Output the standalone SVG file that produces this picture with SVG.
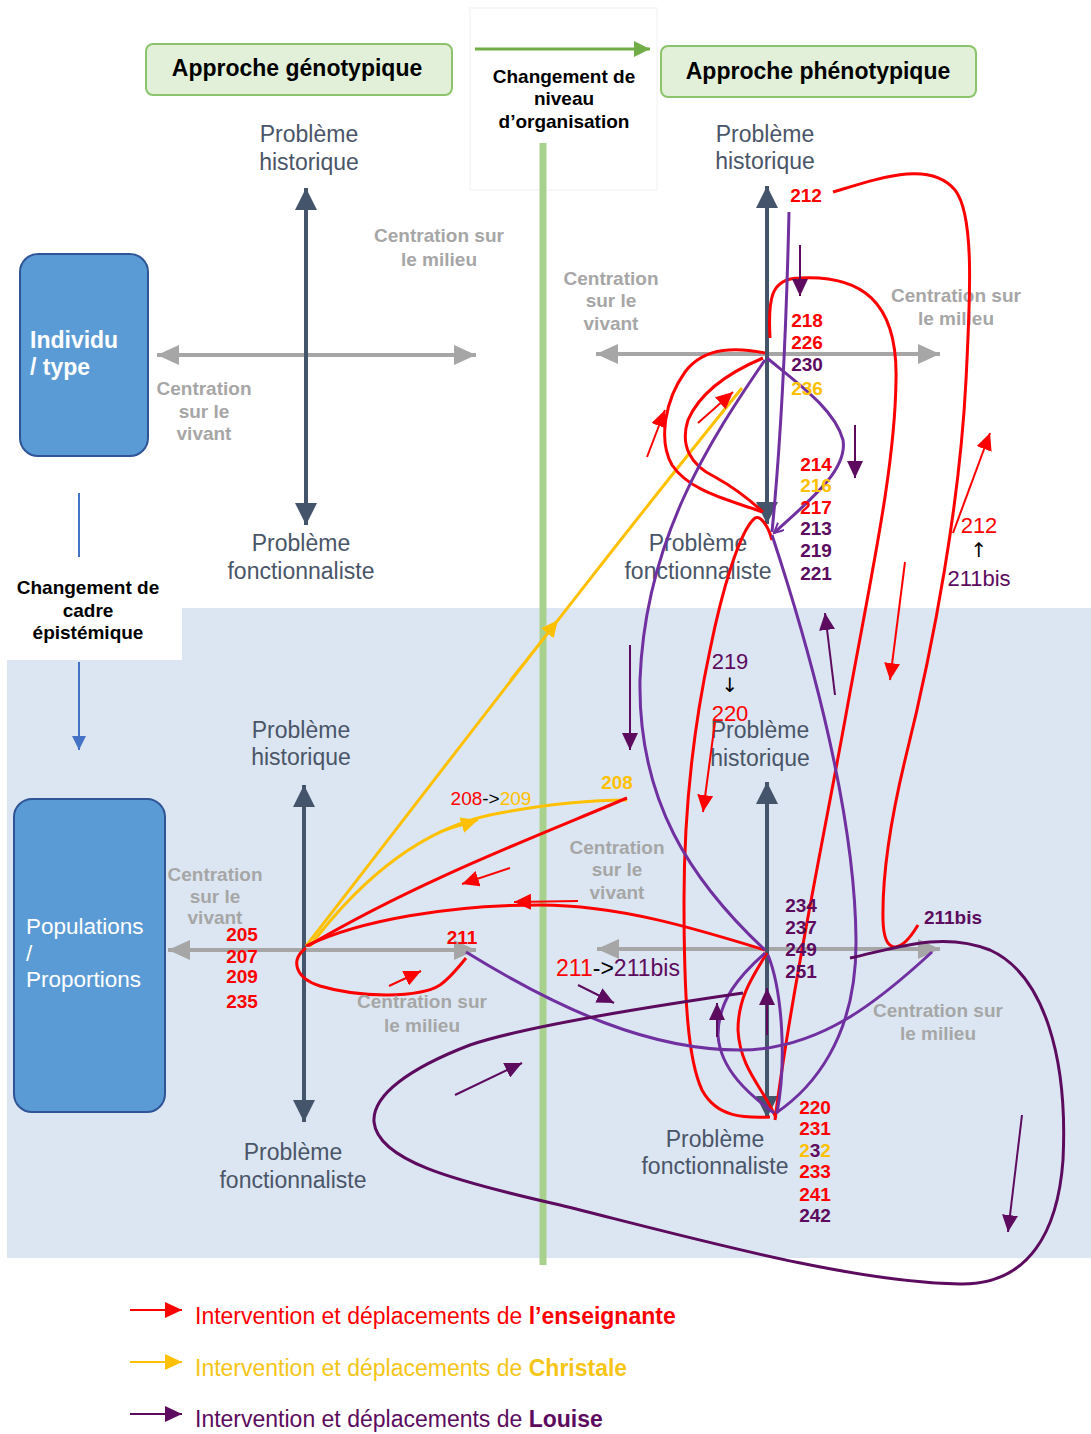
<svg xmlns="http://www.w3.org/2000/svg" width="1091" height="1434" viewBox="0 0 1091 1434">
<defs>
<style>
text{font-family:"Liberation Sans",Arial,sans-serif}
.ax{stroke:#44546a;stroke-width:4;fill:none}
.gx{stroke:#a6a6a6;stroke-width:4;fill:none}
.lab{font-size:23px;fill:#4a5568;text-anchor:middle}
.cen{font-size:19px;font-weight:bold;fill:#a6a6a6;text-anchor:middle}
.num{font-size:19px;font-weight:bold;text-anchor:middle}
.reg{font-size:22px;text-anchor:middle}
.arr{font-family:"DejaVu Sans",sans-serif;font-size:20px;text-anchor:middle;fill:#000}
.r{stroke:#ff0000;stroke-width:3;fill:none}
.y{stroke:#ffc000;stroke-width:3;fill:none}
.p{stroke:#7030a0;stroke-width:3;fill:none}
.d{stroke:#5c0b5e;stroke-width:3;fill:none}
.ra{stroke:#ff0000;stroke-width:2;fill:none;marker-end:url(#mr)}
.ya{stroke:#ffc000;stroke-width:2;fill:none;marker-end:url(#my)}
.da{stroke:#5c0b5e;stroke-width:2;fill:none;marker-end:url(#md)}
.cr{fill:#ff0000}.cy{fill:#ffc000}.cd{fill:#5c0b5e}.ck{fill:#000}
.hdr{font-size:23px;font-weight:bold;fill:#000;text-anchor:middle}
.sub{font-size:19px;font-weight:bold;fill:#000;text-anchor:middle}
.leg{font-size:23px}
</style>
<marker id="ad" markerUnits="userSpaceOnUse" markerWidth="24" markerHeight="24" refX="22" refY="11" orient="auto-start-reverse"><path d="M0,0 L22,11 L0,22 z" fill="#44546a"/></marker>
<marker id="ag" markerUnits="userSpaceOnUse" markerWidth="24" markerHeight="22" refX="22" refY="10" orient="auto-start-reverse"><path d="M0,0 L22,10 L0,20 z" fill="#a6a6a6"/></marker>
<marker id="mr" markerUnits="userSpaceOnUse" markerWidth="18" markerHeight="16" refX="17" refY="8" orient="auto"><path d="M0,0 L17,8 L0,16 z" fill="#ff0000"/></marker>
<marker id="my" markerUnits="userSpaceOnUse" markerWidth="18" markerHeight="16" refX="17" refY="8" orient="auto"><path d="M0,0 L17,8 L0,16 z" fill="#ffc000"/></marker>
<marker id="md" markerUnits="userSpaceOnUse" markerWidth="18" markerHeight="16" refX="17" refY="8" orient="auto"><path d="M0,0 L17,8 L0,16 z" fill="#5c0b5e"/></marker>
<marker id="mp" markerUnits="userSpaceOnUse" markerWidth="12" markerHeight="12" refX="10" refY="5" orient="auto"><path d="M0,0 L10,5 L0,10" fill="none" stroke="#7030a0" stroke-width="2"/></marker>
<marker id="mg" markerUnits="userSpaceOnUse" markerWidth="18" markerHeight="18" refX="16" refY="8" orient="auto"><path d="M0,0 L16,8 L0,16 z" fill="#70ad47"/></marker>
<marker id="mb" markerUnits="userSpaceOnUse" markerWidth="16" markerHeight="16" refX="14" refY="7" orient="auto"><path d="M0,0 L14,7 L0,14 z" fill="#4472c4"/></marker>
</defs>
<rect x="0" y="0" width="1091" height="1434" fill="#ffffff"/>
<rect x="7" y="608" width="1084" height="650" fill="#dce6f2"/>

<g id="niveau-organisation">
<rect x="470" y="8" width="187" height="182" fill="#ffffff" stroke="#f0f0f0" stroke-width="1"/>
<line x1="475" y1="49" x2="650" y2="49" stroke="#70ad47" stroke-width="3" marker-end="url(#mg)"/>
<text class="sub" x="564" y="83">Changement de</text>
<text class="sub" x="564" y="105">niveau</text>
<text class="sub" x="564" y="128">d’organisation</text>
<line x1="543" y1="143" x2="543" y2="1265" stroke="#a9d18e" stroke-width="7"/>
</g>

<g id="cadre-epistemique">
<line x1="79" y1="493" x2="79" y2="557" stroke="#4472c4" stroke-width="2"/>
<rect x="7" y="560" width="175" height="100" fill="#ffffff"/>
<line x1="79" y1="662" x2="79" y2="750" stroke="#4472c4" stroke-width="2" marker-end="url(#mb)"/>
<text class="sub" x="88" y="594">Changement de</text>
<text class="sub" x="88" y="617">cadre</text>
<text class="sub" x="88" y="639">épistémique</text>
</g>

<g id="approche-genotypique">
<rect x="146" y="44" width="306" height="51" rx="7" fill="#e2f0d9" stroke="#8cc46c" stroke-width="2"/>
<text class="hdr" x="297" y="76">Approche génotypique</text>
</g>
<g id="approche-phenotypique">
<rect x="661" y="46" width="315" height="51" rx="7" fill="#e2f0d9" stroke="#8cc46c" stroke-width="2"/>
<text class="hdr" x="818" y="79">Approche phénotypique</text>
</g>

<g id="individu-type">
<rect x="20" y="254" width="128" height="202" rx="18" fill="#5b9bd5" stroke="#2f5597" stroke-width="2"/>
<text x="30" y="348" font-size="23" font-weight="bold" fill="#ffffff">Individu</text>
<text x="30" y="375" font-size="23" font-weight="bold" fill="#ffffff">/ type</text>
</g>
<g id="populations-proportions">
<rect x="14" y="799" width="151" height="313" rx="18" fill="#5b9bd5" stroke="#2f5597" stroke-width="2"/>
<text x="26" y="934" font-size="22.5" fill="#ffffff">Populations</text>
<text x="26" y="961" font-size="22.5" fill="#ffffff">/</text>
<text x="26" y="987" font-size="22.5" fill="#ffffff">Proportions</text>
</g>

<g id="quadrant-haut-gauche">
<line class="gx" x1="157" y1="355" x2="476" y2="355" marker-start="url(#ag)" marker-end="url(#ag)"/>
<line class="ax" x1="306" y1="188" x2="306" y2="525" marker-start="url(#ad)" marker-end="url(#ad)"/>
<text class="lab" x="309" y="142">Problème</text>
<text class="lab" x="309" y="170">historique</text>
<text class="lab" x="301" y="551">Problème</text>
<text class="lab" x="301" y="579">fonctionnaliste</text>
<text class="cen" x="439" y="242">Centration sur</text>
<text class="cen" x="439" y="266">le milieu</text>
<text class="cen" x="204" y="395">Centration</text>
<text class="cen" x="204" y="418">sur le</text>
<text class="cen" x="204" y="440">vivant</text>
</g>

<g id="quadrant-haut-droit">
<line class="gx" x1="596" y1="354" x2="940" y2="354" marker-start="url(#ag)" marker-end="url(#ag)"/>
<line class="ax" x1="767" y1="186" x2="767" y2="524" marker-start="url(#ad)" marker-end="url(#ad)"/>
<text class="lab" x="765" y="142">Problème</text>
<text class="lab" x="765" y="169">historique</text>
<text class="lab" x="698" y="551">Problème</text>
<text class="lab" x="698" y="579">fonctionnaliste</text>
<text class="cen" x="956" y="302">Centration sur</text>
<text class="cen" x="956" y="325">le milieu</text>
<text class="cen" x="611" y="285">Centration</text>
<text class="cen" x="611" y="307">sur le</text>
<text class="cen" x="611" y="330">vivant</text>
</g>

<g id="quadrant-bas-gauche">
<line class="gx" x1="168" y1="950" x2="476" y2="950" marker-start="url(#ag)" marker-end="url(#ag)"/>
<line class="ax" x1="304" y1="785" x2="304" y2="1122" marker-start="url(#ad)" marker-end="url(#ad)"/>
<text class="lab" x="301" y="738">Problème</text>
<text class="lab" x="301" y="765">historique</text>
<text class="lab" x="293" y="1160">Problème</text>
<text class="lab" x="293" y="1188">fonctionnaliste</text>
<text class="cen" x="215" y="881">Centration</text>
<text class="cen" x="215" y="903">sur le</text>
<text class="cen" x="215" y="924">vivant</text>
</g>

<g id="quadrant-bas-droit">
<line class="gx" x1="597" y1="949" x2="940" y2="949" marker-start="url(#ag)" marker-end="url(#ag)"/>
<line class="ax" x1="767" y1="782" x2="767" y2="1118" marker-start="url(#ad)" marker-end="url(#ad)"/>
<text class="lab" x="760" y="738">Problème</text>
<text class="lab" x="760" y="766">historique</text>
<text class="lab" x="715" y="1147">Problème</text>
<text class="lab" x="715" y="1174">fonctionnaliste</text>
<text class="cen" x="617" y="854">Centration</text>
<text class="cen" x="617" y="876">sur le</text>
<text class="cen" x="617" y="899">vivant</text>
<text class="cen" x="938" y="1017">Centration sur</text>
<text class="cen" x="938" y="1040">le milieu</text>
</g>

<g id="connecteurs">
<!-- Christale (jaune) -->
<path class="y" d="M306,946 C450,760 610,550 742,388"/>
<path class="y" d="M310,946 C360,880 420,830 490,815 C550,803 600,800 627,800"/>
<line class="ya" x1="510" y1="680" x2="558" y2="620"/>
<line class="ya" x1="440" y1="832" x2="478" y2="820"/>
<!-- enseignante (rouge) -->
<path class="r" d="M833,192 C880,178 930,160 955,190 C975,215 970,300 966,380 C960,500 935,640 905,760 C893,810 882,870 883,920 C884,955 900,955 918,925"/>
<path class="r" d="M770,338 C768,300 770,278 800,278 C860,275 898,300 896,380 C895,470 870,580 845,720 C825,830 790,1000 775,1120"/>
<path class="r" d="M765,353 C740,348 705,345 685,372 C665,400 658,440 672,465 C690,492 730,500 762,512"/>
<path class="r" d="M763,358 C730,372 700,392 688,420 C680,445 690,465 715,477 C735,488 750,500 763,512"/>
<path class="r" d="M772,540 C768,525 760,515 755,518 C740,530 722,590 710,650 C695,720 684,800 684,900 C684,1000 688,1060 702,1090 C717,1118 745,1118 770,1117"/>
<path class="r" d="M767,953 C750,980 738,1000 738,1030 C740,1070 765,1090 776,1118"/>
<path class="r" d="M765,950 C700,930 620,905 540,905 C450,905 360,920 306,946"/>
<path class="r" d="M627,798 C540,835 420,880 308,946"/>
<path class="r" d="M306,948 C290,960 295,978 320,986 C360,998 420,998 440,985 C450,978 458,968 466,958"/>
<line class="ra" x1="578" y1="901" x2="514" y2="902"/>
<line class="ra" x1="510" y1="868" x2="462" y2="884"/>
<line class="ra" x1="389" y1="986" x2="421" y2="971"/>
<line class="ra" x1="647" y1="457" x2="665" y2="410"/>
<line class="ra" x1="698" y1="423" x2="733" y2="392"/>
<line class="ra" x1="953" y1="533" x2="990" y2="433"/>
<line class="ra" x1="905" y1="562" x2="890" y2="680"/>
<line class="ra" x1="715" y1="722" x2="703" y2="812"/>
<!-- Louise (violet) -->
<path class="p" d="M789,212 C787,300 783,420 772,532"/>
<path class="p" d="M767,358 C800,385 835,410 843,440 C848,470 810,500 774,533" marker-end="url(#mp)"/>
<path class="p" d="M765,360 C710,440 645,540 640,680 C638,800 690,880 765,950"/>
<path class="p" d="M772,535 C800,620 855,800 856,940 C857,1040 810,1090 776,1113"/>
<path class="p" d="M466,952 C560,1010 650,1050 740,1050 C820,1050 880,1000 932,952"/>
<path class="p" d="M765,953 C740,975 718,1000 718,1035 C720,1070 750,1095 774,1113"/>
<path class="p" d="M768,955 C782,990 787,1060 777,1113"/>
<path class="d" d="M743,993 C640,1008 520,1028 470,1045 C410,1068 372,1095 374,1122 C378,1160 450,1180 560,1205 C700,1240 850,1282 960,1284 C1030,1285 1058,1230 1063,1160 C1068,1060 1045,975 990,950 C940,930 890,950 850,958"/>
<line class="da" x1="800" y1="245" x2="800" y2="296"/>
<line class="da" x1="855" y1="425" x2="855" y2="478"/>
<line class="da" x1="630" y1="645" x2="630" y2="750"/>
<line class="da" x1="835" y1="695" x2="825" y2="613"/>
<line class="da" x1="578" y1="985" x2="614" y2="1003"/>
<line class="da" x1="717" y1="1037" x2="717" y2="1003"/>
<line class="da" x1="767" y1="1035" x2="767" y2="988"/>
<line class="da" x1="455" y1="1095" x2="522" y2="1063"/>
<line class="da" x1="1022" y1="1115" x2="1008" y2="1232"/>
</g>

<g id="milieu-bas-gauche">
<text class="cen" x="422" y="1008">Centration sur</text>
<text class="cen" x="422" y="1032">le milieu</text>
</g>

<g id="numeros">
<text class="num cr" x="806" y="202">212</text>
<text class="num cr" x="807" y="327">218</text>
<text class="num cr" x="807" y="349">226</text>
<text class="num cd" x="807" y="371">230</text>
<text class="num cy" x="807" y="395">236</text>
<text class="num cr" x="816" y="471">214</text>
<text class="num cy" x="816" y="492">216</text>
<text class="num cr" x="816" y="514">217</text>
<text class="num cd" x="816" y="535">213</text>
<text class="num cd" x="816" y="557">219</text>
<text class="num cd" x="816" y="580">221</text>
<text class="reg cr" x="979" y="533">212</text>
<text class="arr" x="979" y="557">↑</text>
<text class="reg cd" x="979" y="586">211bis</text>
<text class="reg cd" x="730" y="669">219</text>
<text class="arr" x="730" y="692">↓</text>
<text class="reg cr" x="730" y="721">220</text>
<text class="num cy" x="617" y="789">208</text>
<text x="491" y="805" font-size="19" text-anchor="middle"><tspan class="cr">208</tspan><tspan class="ck">-&gt;</tspan><tspan class="cy">209</tspan></text>
<text class="num cr" x="242" y="941">205</text>
<text class="num cr" x="242" y="963">207</text>
<text class="num cr" x="242" y="983">209</text>
<text class="num cr" x="242" y="1008">235</text>
<text class="num cr" x="462" y="944">211</text>
<text x="618" y="976" font-size="23" text-anchor="middle"><tspan class="cr">211</tspan><tspan class="ck">-&gt;</tspan><tspan class="cd">211bis</tspan></text>
<text class="num cd" x="801" y="912">234</text>
<text class="num cd" x="801" y="934">237</text>
<text class="num cd" x="801" y="956">249</text>
<text class="num cd" x="801" y="978">251</text>
<text class="num cd" x="953" y="924">211bis</text>
<text class="num cr" x="815" y="1114">220</text>
<text class="num cr" x="815" y="1135">231</text>
<text class="num" x="815" y="1157"><tspan class="cy">2</tspan><tspan class="cd">3</tspan><tspan class="cy">2</tspan></text>
<text class="num cr" x="815" y="1178">233</text>
<text class="num cr" x="815" y="1201">241</text>
<text class="num cd" x="815" y="1222">242</text>
</g>

<g id="legende">
<line x1="130" y1="1310" x2="182" y2="1310" stroke="#ff0000" stroke-width="2" marker-end="url(#mr)"/>
<text class="leg cr" x="195" y="1324">Intervention et déplacements de <tspan font-weight="bold">l’enseignante</tspan></text>
<line x1="130" y1="1362" x2="182" y2="1362" stroke="#ffc000" stroke-width="2" marker-end="url(#my)"/>
<text class="leg" x="195" y="1376" fill="#f5c518">Intervention et déplacements de <tspan font-weight="bold">Christale</tspan></text>
<line x1="130" y1="1414" x2="182" y2="1414" stroke="#5c0b5e" stroke-width="2" marker-end="url(#md)"/>
<text class="leg cd" x="195" y="1427">Intervention et déplacements de <tspan font-weight="bold">Louise</tspan></text>
</g>
</svg>
